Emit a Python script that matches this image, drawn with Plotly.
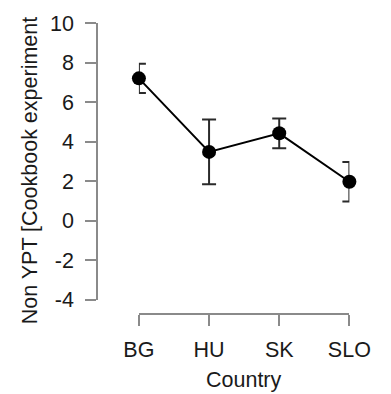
import plotly.graph_objects as go

countries = ["BG", "HU", "SK", "SLO"]
means = [7.2, 3.48, 4.42, 1.97]
errors = [0.74, 1.64, 0.75, 1.0]
y_ticks = [-4, -2, 0, 2, 4, 6, 8, 10]
y_tick_labels = ["-4", "-2", "0", "2", "4", "6", "8", "10"]

W, H = 391, 394
ML, MR, MT, MB = 97, 21, 21, 80
plot_w = W - ML - MR
plot_h = H - MT - MB

FONT = "Liberation Sans, Arial, sans-serif"
FS = 21.5
AXIS_COLOR = "#8a8a8a"
TEXT_COLOR = "#1a1a1a"

fig = go.Figure()
fig.add_trace(go.Scatter(
    x=countries, y=means,
    mode="lines+markers",
    line=dict(color="black", width=2),
    marker=dict(color="black", size=14),
    error_y=dict(type="data", array=errors, visible=True,
                 color="#2a2a2a", thickness=2, width=7),
    cliponaxis=False,
    showlegend=False,
))

x_lo = (141 - ML) / plot_w
x_hi = (362 - ML) / plot_w
y_lo = (314.3 - 300) / plot_h

fig.update_layout(
    width=W, height=H,
    margin=dict(l=ML, r=MR, t=MT, b=MB),
    paper_bgcolor="white", plot_bgcolor="white",
    font=dict(family=FONT, size=FS, color=TEXT_COLOR),
    xaxis=dict(
        domain=[x_lo, x_hi], range=[0, 3],
        anchor="free", position=0,
        showgrid=False, zeroline=False,
        showline=True, linecolor=AXIS_COLOR, linewidth=1.5,
        ticks="outside", ticklen=11, tickcolor=AXIS_COLOR, tickwidth=1.5,
        ticklabelstandoff=5,
        tickfont=dict(size=FS, color=TEXT_COLOR),
    ),
    yaxis=dict(
        domain=[y_lo, 1], range=[-4, 10],
        anchor="free", position=0,
        tickvals=y_ticks, ticktext=y_tick_labels,
        showgrid=False, zeroline=False,
        showline=True, linecolor=AXIS_COLOR, linewidth=1.5,
        ticks="outside", ticklen=11, tickcolor=AXIS_COLOR, tickwidth=1.5,
        ticklabelstandoff=7,
        tickfont=dict(size=FS, color=TEXT_COLOR),
    ),
    annotations=[
        dict(text="Country", xref="paper", yref="paper",
             x=(x_lo + x_hi) / 2, y=(MT + plot_h - 380) / plot_h,
             xanchor="center", yanchor="middle", showarrow=False,
             font=dict(size=FS, color=TEXT_COLOR)),
        dict(text="Non YPT [Cookbook experiment", xref="paper", yref="paper",
             x=(27 - ML) / plot_w, y=(MT + plot_h - 169) / plot_h,
             xanchor="center", yanchor="middle", showarrow=False,
             textangle=-90,
             font=dict(size=FS, color=TEXT_COLOR)),
    ],
)

fig.write_html("out.html",
               config={"displayModeBar": False},
               post_script="document.body.style.margin='0';document.body.style.padding='0';")
